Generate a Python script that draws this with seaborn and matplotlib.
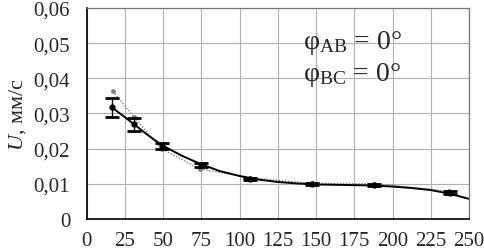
import matplotlib
matplotlib.use("Agg")
import matplotlib.pyplot as plt
import seaborn as sns
import pandas as pd
import numpy as np
from matplotlib.ticker import FuncFormatter

# measured points (mean with error bars)
x_mean = [16.5, 31, 49, 74.5, 107, 147, 188, 237.5]
u_mean = [0.0317, 0.0269, 0.0207, 0.0154, 0.0114, 0.0099, 0.0097, 0.0074]
u_err = [0.0028, 0.0019, 0.0008, 0.0005, 0.0003, 0.0003, 0.0003, 0.0004]

# second series (grey, dotted)
x_grey = [17, 31, 49, 74, 107, 147, 188, 237]
u_grey = [0.0363, 0.0289, 0.0199, 0.0142, 0.0117, 0.0101, 0.0100, 0.0079]

# trend curve
x_trend = [16.5, 25, 31, 40, 49, 62, 75, 87, 100, 112, 125, 137, 150, 162, 175, 187, 200, 212, 225, 237, 250]
u_trend = [0.0317, 0.0289, 0.0269, 0.0238, 0.0210, 0.0180, 0.0155, 0.0136, 0.0122, 0.0112, 0.0105, 0.0101, 0.0098, 0.0097, 0.0096, 0.0095, 0.0092, 0.0088, 0.0082, 0.0072, 0.0057]

df_mean = pd.DataFrame({"x": x_mean, "u": u_mean, "err": u_err})
df_grey = pd.DataFrame({"x": x_grey, "u": u_grey})
df_trend = pd.DataFrame({"x": x_trend, "u": u_trend})

sns.set_style("white")
plt.rcParams["font.family"] = ["Liberation Serif", "DejaVu Serif"]
plt.rcParams["mathtext.fontset"] = "custom"
plt.rcParams["mathtext.rm"] = "Liberation Serif"
plt.rcParams["mathtext.it"] = "Liberation Serif:italic"

fig = plt.figure(figsize=(4.85, 2.51), dpi=100)
ax = fig.add_axes([0.179, 0.124, 0.788, 0.840])

sns.lineplot(data=df_grey, x="x", y="u", ax=ax, color="#808080", lw=1.0,
             linestyle=(0, (1, 1.2)), marker="o", markersize=3.5,
             markeredgewidth=0, sort=False)
sns.lineplot(data=df_trend, x="x", y="u", ax=ax, color="black", lw=1.4, sort=False)
ax.errorbar(df_mean["x"], df_mean["u"], yerr=df_mean["err"], fmt="o",
            color="black", markersize=3.5, capsize=5, elinewidth=1.0,
            capthick=2.0)

ax.set_xlim(0, 250)
ax.set_ylim(0, 0.06)
ax.set_xticks(np.arange(0, 251, 25))
ax.set_yticks(np.arange(0, 0.061, 0.01))
ax.yaxis.set_major_formatter(FuncFormatter(lambda v, p: "0" if abs(v) < 1e-9 else f"{v:.2f}".replace(".", ",")))
ax.grid(True, color="#b0b0b0", lw=0.8)
ax.tick_params(axis="both", labelsize=15, length=0, pad=9)
ax.tick_params(axis="y", pad=12)

for side in ["left", "bottom"]:
    ax.spines[side].set_color("black")
    ax.spines[side].set_linewidth(1.2)
for side in ["top", "right"]:
    ax.spines[side].set_color("#777777")
    ax.spines[side].set_linewidth(0.9)

ax.set_xlabel("")
ax.set_ylabel(r"$U$, мм/с", fontsize=16, labelpad=4)

ax.text(0.565, 0.84, r"φ$_{\rm AB}$ = 0°", transform=ax.transAxes, fontsize=20, va="center")
ax.text(0.565, 0.685, r"φ$_{\rm BC}$ = 0°", transform=ax.transAxes, fontsize=20, va="center")

fig.savefig("out.png", dpi=100)
